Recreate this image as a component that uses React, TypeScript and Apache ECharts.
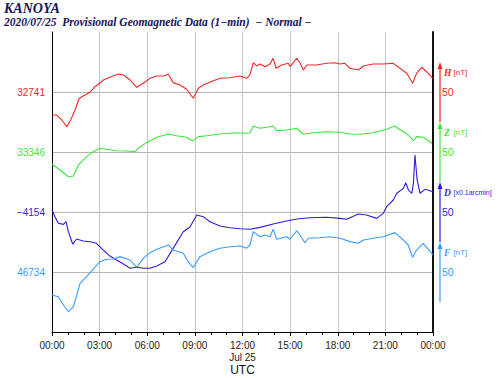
import React, { useEffect, useRef } from "react";
import * as echarts from "echarts";

// ---------- text ----------
const STATION = "KANOYA";
const SUBTITLE = "2020/07/25  Provisional Geomagnetic Data (1\u2212min)  \u2212 Normal \u2212";
const X_TICK_LABELS = ["00:00", "03:00", "06:00", "09:00", "12:00", "15:00", "18:00", "21:00", "00:00"];
const DATE_LABEL = "Jul 25";
const X_NAME = "UTC";

// ---------- components ----------
const COMPONENTS = ["H", "Z", "D", "F"];
const UNITS = ["[nT]", "[nT]", "[x0.1arcmin]", "[nT]"];
const BASE_VALUES = [32741, 33346, -4154, 46734];
const BASE_LABELS = ["32741", "33346", "\u22124154", "46734"];
const SCALE_LABEL = "50";
const SCALE_STEP = 50;
const COLORS = ["#f02828", "#3ce63c", "#2c1ed6", "#3a9cff"];

// ---------- data (minutes since 00:00 UTC, value) ----------
const H_MIN = [0, 18, 37, 56, 74, 87, 103, 118, 144, 162, 181, 194, 219, 251, 270, 295, 320, 345, 370, 396, 421, 440, 458, 484, 509, 534, 553, 572, 610, 635, 673, 711, 736, 748, 761, 774, 786, 805, 824, 836, 847, 868, 893, 900, 925, 937, 950, 963, 1000, 1038, 1070, 1089, 1107, 1126, 1158, 1177, 1214, 1252, 1290, 1315, 1341, 1363, 1378, 1397, 1416, 1439];
const H_VAL = [32721.8, 32721.8, 32717.7, 32712.1, 32719.3, 32726, 32735.8, 32737.7, 32740.8, 32745.4, 32748.3, 32751, 32753.3, 32756, 32755.2, 32751, 32744.9, 32748.3, 32752.4, 32754.3, 32754.3, 32755.8, 32748.8, 32746.8, 32743.3, 32735.8, 32744.1, 32746.8, 32750.4, 32752.4, 32752.9, 32754.3, 32752.4, 32755.2, 32765.4, 32762.7, 32764.3, 32762.1, 32764.3, 32769.1, 32760.8, 32763.5, 32764.9, 32762.1, 32769.1, 32765.4, 32759.3, 32763.5, 32763.5, 32764.9, 32765.4, 32764.3, 32764.9, 32760.8, 32759.3, 32762.7, 32764.3, 32764.3, 32764.9, 32760.8, 32756.6, 32748.3, 32756.6, 32761.6, 32757.9, 32752.4];

const Z_MIN = [0, 30, 62, 81, 100, 131, 156, 181, 206, 244, 282, 313, 326, 357, 396, 440, 471, 509, 531, 553, 584, 635, 698, 736, 748, 761, 786, 811, 836, 849, 887, 925, 950, 988, 1038, 1089, 1126, 1164, 1214, 1265, 1294, 1328, 1353, 1366, 1378, 1404, 1436];
const Z_VAL = [33336, 33331, 33325.4, 33326, 33335.2, 33342.1, 33346.3, 33349.1, 33348.3, 33347.1, 33346.8, 33346.3, 33349.1, 33353.8, 33358.3, 33361, 33359.6, 33358.3, 33355.2, 33358.8, 33359.6, 33361, 33362.1, 33361.6, 33361.8, 33367.7, 33365.8, 33366.6, 33367.7, 33363.8, 33364.3, 33365.8, 33360.8, 33362.1, 33362.9, 33362.4, 33361, 33360.8, 33362.1, 33364.9, 33367.7, 33362.9, 33358.8, 33355.4, 33358.8, 33358.3, 33353.3];

const D_MIN = [0, 11, 24, 43, 53, 62, 78, 93, 118, 144, 168, 194, 219, 244, 270, 295, 320, 345, 370, 396, 427, 458, 496, 522, 547, 572, 597, 635, 673, 711, 748, 786, 836, 887, 925, 975, 1038, 1089, 1114, 1158, 1189, 1227, 1252, 1265, 1290, 1303, 1328, 1337, 1347, 1360, 1366, 1372, 1380, 1391, 1410, 1440];
const D_VAL = [-4152.3, -4157.9, -4163.4, -4164.3, -4162.1, -4170.4, -4180.7, -4176.5, -4178.2, -4178.8, -4180.1, -4185.7, -4190.7, -4194, -4197.3, -4200.9, -4200.1, -4200.9, -4200.9, -4199, -4195.4, -4184.3, -4170.4, -4166.3, -4156.5, -4157.9, -4162.1, -4165.7, -4167.1, -4168, -4168.4, -4166.8, -4164, -4161.5, -4159.8, -4158.8, -4158.4, -4159.3, -4160.1, -4155.7, -4156.5, -4159.3, -4155.1, -4149.6, -4144, -4138.4, -4134.3, -4129.6, -4135.7, -4138.4, -4130.1, -4106.5, -4127.3, -4138.4, -4135.1, -4137.1];

const F_MIN = [0, 24, 43, 62, 81, 106, 131, 156, 181, 206, 232, 257, 295, 320, 345, 370, 396, 440, 458, 496, 515, 534, 559, 597, 635, 673, 711, 736, 748, 761, 786, 805, 824, 836, 849, 887, 900, 925, 937, 956, 969, 1013, 1051, 1089, 1126, 1158, 1177, 1214, 1252, 1296, 1328, 1346, 1363, 1378, 1403, 1440];
const F_VAL = [46714.8, 46713.4, 46706.5, 46700.9, 46705.1, 46724.6, 46730.1, 46736.3, 46742.6, 46744.6, 46744.8, 46746.8, 46744, 46737.9, 46745.4, 46750.1, 46752.9, 46756.5, 46752.3, 46749.6, 46742.6, 46737.6, 46746.8, 46750.9, 46753.8, 46755.1, 46755.7, 46753.8, 46756.5, 46767.6, 46763.4, 46764.8, 46763.4, 46769.6, 46761.3, 46763.4, 46761.3, 46768.4, 46764.8, 46758.4, 46762.1, 46762.6, 46763.4, 46762.1, 46759.3, 46757.9, 46760.7, 46762.1, 46763.4, 46766.8, 46760.7, 46756.5, 46746.3, 46752.3, 46757.9, 46748.2];

const SERIES_MIN = [H_MIN, Z_MIN, D_MIN, F_MIN];
const SERIES_VAL = [H_VAL, Z_VAL, D_VAL, F_VAL];

const SANS = '"Liberation Sans", Arial, Helvetica, sans-serif';
const SERIF = '"Liberation Serif", "Times New Roman", serif';
const BANDS = 5;

export default function App() {
  const ref = useRef<HTMLDivElement>(null);

  useEffect(() => {
    if (!ref.current) return;
    const chart = echarts.init(ref.current, undefined, { renderer: "svg" });

    const rich: Record<string, any> = {};
    COLORS.forEach((c, i) => {
      rich["c" + i] = { color: c, fontSize: 10, fontFamily: SANS };
      rich["s" + i] = { color: c, fontSize: 10.5, fontFamily: SANS };
    });

    const dataAxes = BASE_VALUES.map((base, i) => {
      const level = BANDS - 1 - i; // baseline level counted from bottom
      const min = base - level * SCALE_STEP;
      return {
        type: "value",
        show: false,
        min,
        max: min + BANDS * SCALE_STEP,
        splitLine: { show: false },
      };
    });

    const option: any = {
      animation: false,
      backgroundColor: "#ffffff",
      title: {
        text: STATION,
        subtext: SUBTITLE,
        left: 4,
        top: 1,
        padding: 0,
        itemGap: 1,
        textStyle: { fontFamily: SERIF, fontStyle: "italic", fontWeight: "bold", fontSize: 14, color: "#14145a" },
        subtextStyle: { fontFamily: SERIF, fontStyle: "italic", fontWeight: "bold", fontSize: 11.5, color: "#14145a" },
      },
      grid: { left: 52, right: 67, top: 32, bottom: 46, outerBoundsMode: "none", containLabel: false },
      xAxis: {
        type: "value",
        min: 0,
        max: 1440,
        interval: 180,
        name: X_NAME,
        nameLocation: "middle",
        nameGap: 32,
        nameMoveOverlap: false,
        nameTextStyle: { fontFamily: SANS, fontSize: 12, lineHeight: 12, color: "#111" },
        axisLine: { show: true, lineStyle: { color: "#000", width: 1 } },
        axisTick: { show: true, length: 4, lineStyle: { color: "#000" } },
        minorTick: { show: true, splitNumber: 3, length: 3, lineStyle: { color: "#000" } },
        axisLabel: {
          margin: 7,
          fontFamily: SANS,
          fontSize: 10,
          lineHeight: 12,
          color: "#222",
          showMinLabel: true,
          showMaxLabel: true,
          formatter: (v: number) => {
            const i = Math.round(v / 180);
            const s = X_TICK_LABELS[i] ?? "";
            return v === 720 ? s + "\n" + DATE_LABEL : s;
          },
        },
        splitLine: { show: true, showMinLine: false, showMaxLine: false, lineStyle: { color: "#c4c4c4", width: 1 } },
      },
      yAxis: [
        {
          type: "value",
          position: "left",
          min: 0,
          max: BANDS,
          interval: 1,
          axisLine: { show: true, lineStyle: { color: "#000", width: 1 } },
          axisTick: { show: false },
          axisLabel: {
            margin: 7,
            formatter: (v: number) => {
              const i = BANDS - 1 - v;
              if (v <= 0 || v >= BANDS) return "";
              return "{c" + i + "|" + BASE_LABELS[i] + "}";
            },
            rich,
          },
          splitLine: { show: true, showMinLine: false, showMaxLine: false, lineStyle: { color: "#b4b4b4", width: 1 } },
        },
        {
          type: "value",
          position: "right",
          min: 0,
          max: BANDS,
          interval: 1,
          axisLine: { show: true, lineStyle: { color: "#111", width: 2 } },
          axisTick: { show: false },
          axisLabel: {
            margin: 9,
            formatter: (v: number) => {
              const i = BANDS - 1 - v;
              if (v <= 0 || v >= BANDS) return "";
              return "{s" + i + "|" + SCALE_LABEL + "}";
            },
            rich,
          },
          splitLine: { show: false },
        },
        ...dataAxes,
      ],
      series: COMPONENTS.map((name, i) => ({
        name,
        type: "line",
        yAxisIndex: 2 + i,
        showSymbol: false,
        symbol: "none",
        clip: true,
        lineStyle: { color: COLORS[i], width: 1.1 },
        data: SERIES_MIN[i].map((m, k) => [m, SERIES_VAL[i][k]]),
      })),
    };

    chart.setOption(option);

    // scale bars (one band = SCALE_STEP units of each component) drawn right of the plot
    const xr = chart.convertToPixel({ xAxisIndex: 0 }, 1440) as number;
    const ax = xr + 7;
    const graphic: any[] = [];
    BASE_VALUES.forEach((base, i) => {
      const yBase = chart.convertToPixel({ yAxisIndex: 2 + i }, base) as number;
      const yTop = chart.convertToPixel({ yAxisIndex: 2 + i }, base + SCALE_STEP / 2) as number;
      const yBot = chart.convertToPixel({ yAxisIndex: 2 + i }, base - SCALE_STEP / 2) as number;
      graphic.push(
        { type: "line", silent: true, shape: { x1: ax, y1: yBot, x2: ax, y2: yTop + 5 }, style: { stroke: COLORS[i], lineWidth: 1.2 } },
        { type: "polygon", silent: true, shape: { points: [[ax, yTop], [ax - 2.5, yTop + 7], [ax + 2.5, yTop + 7]] }, style: { fill: COLORS[i] } },
        {
          type: "text", silent: true, x: ax + 4, y: yBase - 19,
          style: { text: COMPONENTS[i], fill: COLORS[i], font: "italic bold 9.5px " + SERIF, verticalAlign: "middle" },
        },
        {
          type: "text", silent: true, x: ax + 13.5, y: yBase - 20,
          style: { text: UNITS[i], fill: COLORS[i], font: (i === 2 ? "7px " : "8px ") + SANS, verticalAlign: "middle" },
        }
      );
    });
    chart.setOption({ graphic });

    return () => chart.dispose();
  }, []);

  return <div ref={ref} style={{ width: 500, height: 378, position: "absolute", left: 0, top: 0 }} />;
}
